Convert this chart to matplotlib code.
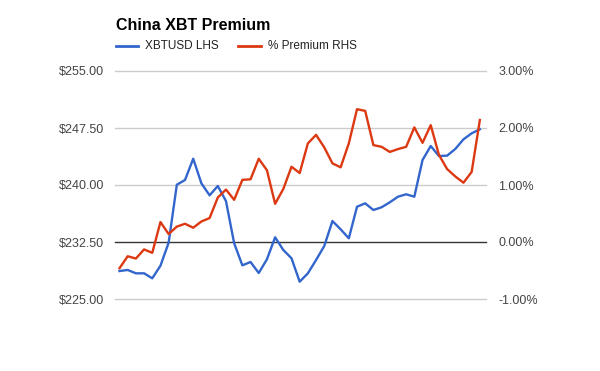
import numpy as np
import matplotlib
matplotlib.use("Agg")
import matplotlib.pyplot as plt
from matplotlib.ticker import FuncFormatter

plt.rcParams['font.family'] = ['Liberation Sans', 'DejaVu Sans']

# XBTUSD price (left axis) and China premium in % (right axis)
xbtusd = [228.68, 228.82, 228.38, 228.38, 227.72, 229.38, 232.41, 240.04, 240.66, 243.46,
          240.22, 238.64, 239.87, 237.89, 232.33, 229.43, 229.87, 228.42, 230.22, 233.12,
          231.45, 230.36, 227.28, 228.38, 230.13, 231.97, 235.26, 234.17, 232.99, 237.14,
          237.59, 236.71, 237.07, 237.72, 238.46, 238.78, 238.46, 243.29, 245.13, 243.82,
          243.86, 244.74, 246.01, 246.80, 247.33]
premium = [-0.46, -0.25, -0.29, -0.13, -0.19, 0.35, 0.14, 0.27, 0.32, 0.25,
           0.36, 0.42, 0.78, 0.92, 0.74, 1.09, 1.10, 1.46, 1.26, 0.67,
           0.93, 1.32, 1.21, 1.73, 1.88, 1.66, 1.38, 1.31, 1.73, 2.33,
           2.30, 1.70, 1.67, 1.58, 1.63, 1.67, 2.01, 1.74, 2.05, 1.53,
           1.28, 1.15, 1.04, 1.23, 2.14]
left_ticks = [225.0, 232.5, 240.0, 247.5, 255.0]
right_ticks = [-1, 0, 1, 2, 3]

x = np.arange(len(xbtusd))

fig = plt.figure(figsize=(6, 3.71), dpi=100)
ax = fig.add_axes([115/600, 72/371, 371/600, 228/371])
ax2 = ax.twinx()

ax.set_xlim(-0.55, len(x) - 1 + 0.75)
ax.set_ylim(225, 255)
ax2.set_ylim(-1, 3)
ax.set_yticks(left_ticks)
ax2.set_yticks(right_ticks)
ax.yaxis.set_major_formatter(FuncFormatter(lambda v, p: "${:.2f}".format(v)))
ax2.yaxis.set_major_formatter(FuncFormatter(lambda v, p: "{:.2f}%".format(v)))

for a in (ax, ax2):
    for s in a.spines.values():
        s.set_visible(False)
    a.tick_params(length=0, labelsize=9, labelcolor="#444444")
ax.tick_params(axis="y", pad=8)
ax2.tick_params(axis="y", pad=9)
ax.set_xticks([])

for t in left_ticks:
    ax.axhline(t, color="#333333" if t == 232.5 else "#cccccc", lw=1, zorder=0,
               clip_on=False)

ax.plot(x, xbtusd, color="#3366cc", lw=1.7, zorder=3)
ax2.plot(x, premium, color="#dc3912", lw=1.7, zorder=3)

fig.text(116/600, 1 - 25/371, "China XBT Premium", fontsize=11.5, fontweight="bold",
         va="center", ha="left")
fig.add_artist(plt.Line2D([116/600, 138/600], [1 - 46/371] * 2, color="#3366cc", lw=2))
fig.text(145/600, 1 - 46/371, "XBTUSD LHS", fontsize=8.5, color="#222222", va="center")
fig.add_artist(plt.Line2D([238/600, 261/600], [1 - 46/371] * 2, color="#dc3912", lw=2))
fig.text(268/600, 1 - 46/371, "% Premium RHS", fontsize=8.5, color="#222222", va="center")

fig.savefig("out.png", dpi=100)
